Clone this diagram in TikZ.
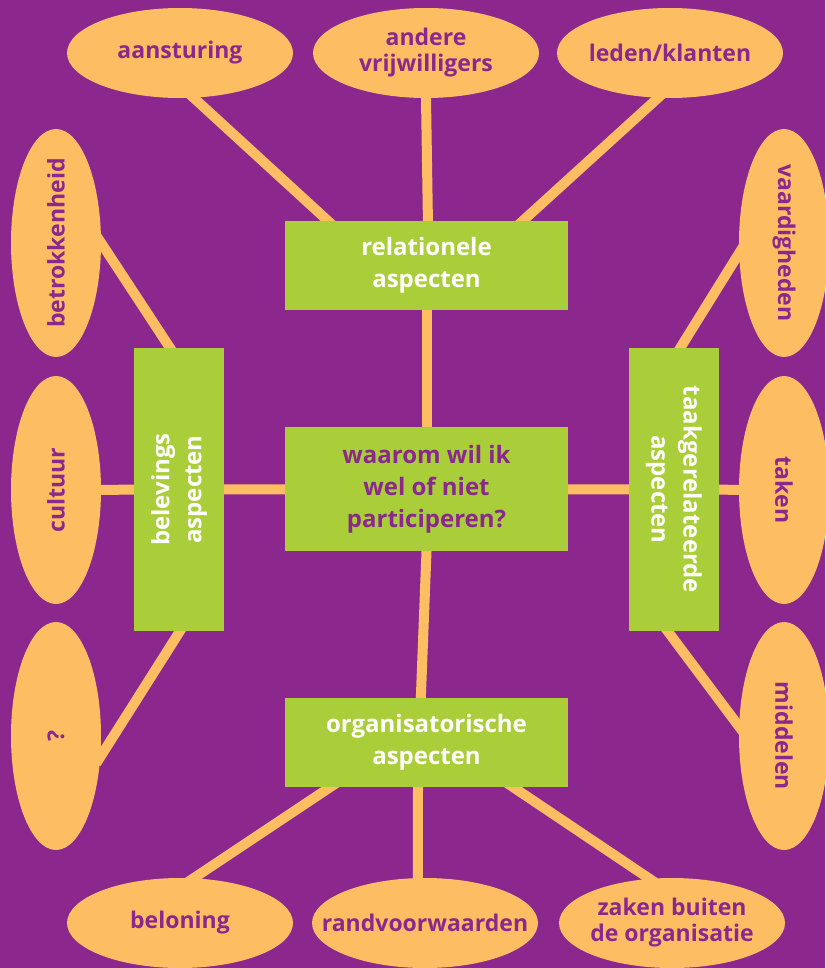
\documentclass[tikz,border=0pt]{standalone}
\usepackage{fontspec}
\setmainfont{Open Sans}
\usepackage{graphicx}
\usetikzlibrary{shapes.geometric,calc}
\pgfdeclarelayer{achter}
\pgfsetlayers{achter,main}
\definecolor{paars}{RGB}{139,39,141}
\definecolor{oranje}{RGB}{253,190,99}
\definecolor{groen}{RGB}{170,206,57}
\newcommand{\draai}[1]{\rotatebox{90}{\begin{tabular}{@{}c@{}}#1\end{tabular}}}
\newcommand{\draaiterug}[1]{\rotatebox{-90}{\begin{tabular}{@{}c@{}}#1\end{tabular}}}
\begin{document}
\begin{tikzpicture}[x=1pt, y=-1pt,
  bol/.style={shape=ellipse, fill=oranje, inner sep=0pt, minimum width=226pt, minimum height=90pt},
  staand/.style={shape=ellipse, fill=oranje, inner sep=0pt, minimum width=90pt, minimum height=228pt},
  tekst/.style={text=paars, font=\bfseries\fontsize{23}{26}\selectfont, align=center, inner sep=0pt},
  vak/.style={shape=rectangle, fill=groen, inner sep=0pt, text=white, font=\bfseries\fontsize{24}{32}\selectfont, align=center},
  lijn/.style={-, draw=oranje, line width=10pt, shorten <=-8pt, shorten >=-8pt}]
\useasboundingbox (0,0) rectangle (825,968);
% bovenste rij
\node[bol, label={[tekst]center:aansturing}] (aansturing) at (180,53) {};
\node[bol, label={[tekst]center:{andere\\vrijwilligers}}] (andere) at (426,53) {};
\node[bol, label={[tekst]center:leden/klanten}] (leden) at (670,53) {};
% onderste rij
\node[bol, label={[tekst]center:beloning}] (beloning) at (180,923) {};
\node[bol, label={[tekst]center:randvoorwaarden}] (randvoorwaarden) at (425,923) {};
\node[bol, label={[tekst]center:{zaken buiten\\de organisatie}}] (zaken) at (672,923) {};
% links
\node[staand, label={[tekst]center:{\rotatebox{90}{betrokkenheid}}}] (betrokkenheid) at (56,243) {};
\node[staand, label={[tekst]center:{\rotatebox{90}{cultuur}}}] (cultuur) at (56,490) {};
\node[staand, label={[tekst]center:{\rotatebox{90}{?}}}] (vraag) at (56,736) {};
% rechts
\node[staand, label={[tekst]center:{\rotatebox{-90}{vaardigheden}}}] (vaardigheden) at (784,243) {};
\node[staand, label={[tekst]center:{\rotatebox{-90}{taken}}}] (taken) at (784,490) {};
\node[staand, label={[tekst]center:{\rotatebox{-90}{middelen}}}] (middelen) at (784,736) {};
% groene vakken
\node[vak, minimum width=283pt, minimum height=89pt] (relationeel) at (426.5,265.5) {relationele\\aspecten};
\node[vak, text=paars, minimum width=283pt, minimum height=124pt] (kern) at (426.5,489) {waarom wil ik\\wel of niet\\participeren?};
\node[vak, minimum width=283pt, minimum height=89pt] (organisatorisch) at (426.5,742.5) {organisatorische\\aspecten};
\node[vak, minimum width=90pt, minimum height=283pt] (beleving) at (179,489.5) {\draai{belevings\\aspecten}};
\node[vak, minimum width=90pt, minimum height=283pt] (taak) at (674,489.5) {\draaiterug{taakgerelateerde\\aspecten}};
\begin{pgfonlayer}{achter}
\fill[paars] (0,0) rectangle (825,968);
\path[lijn] (aansturing.-73) edge ($(relationeel.north west)!0.152!(relationeel.north east)$);
\path[lijn] (andere.south) edge ($(relationeel.north west)!0.505!(relationeel.north east)$);
\path[lijn] (leden.-105) edge ($(relationeel.north west)!0.84!(relationeel.north east)$);
\path[lijn] (relationeel) edge (kern);
\path[lijn] (kern) edge (beleving);
\path[lijn] (kern) edge (taak);
\path[lijn] (kern.south) edge ($(organisatorisch.north west)!0.48!(organisatorisch.north east)$);
\path[lijn] (betrokkenheid.east) edge ($(beleving.north west)!0.4!(beleving.north east)$);
\path[lijn] (cultuur) edge (beleving);
\path[lijn] (vraag.-25) edge ($(beleving.south west)!0.51!(beleving.south east)$);
\path[lijn] (vaardigheden.-167) edge ($(taak.north west)!0.57!(taak.north east)$);
\path[lijn] (taken) edge (taak);
\path[lijn] (middelen.168) edge ($(taak.south west)!0.43!(taak.south east)$);
\path[lijn] (beloning.73) edge ($(organisatorisch.south west)!0.16!(organisatorisch.south east)$);
\path[lijn] (randvoorwaarden.99) edge ($(organisatorisch.south west)!0.47!(organisatorisch.south east)$);
\path[lijn] (zaken.117) edge ($(organisatorisch.south west)!0.806!(organisatorisch.south east)$);
\end{pgfonlayer}
\end{tikzpicture}
\end{document}
